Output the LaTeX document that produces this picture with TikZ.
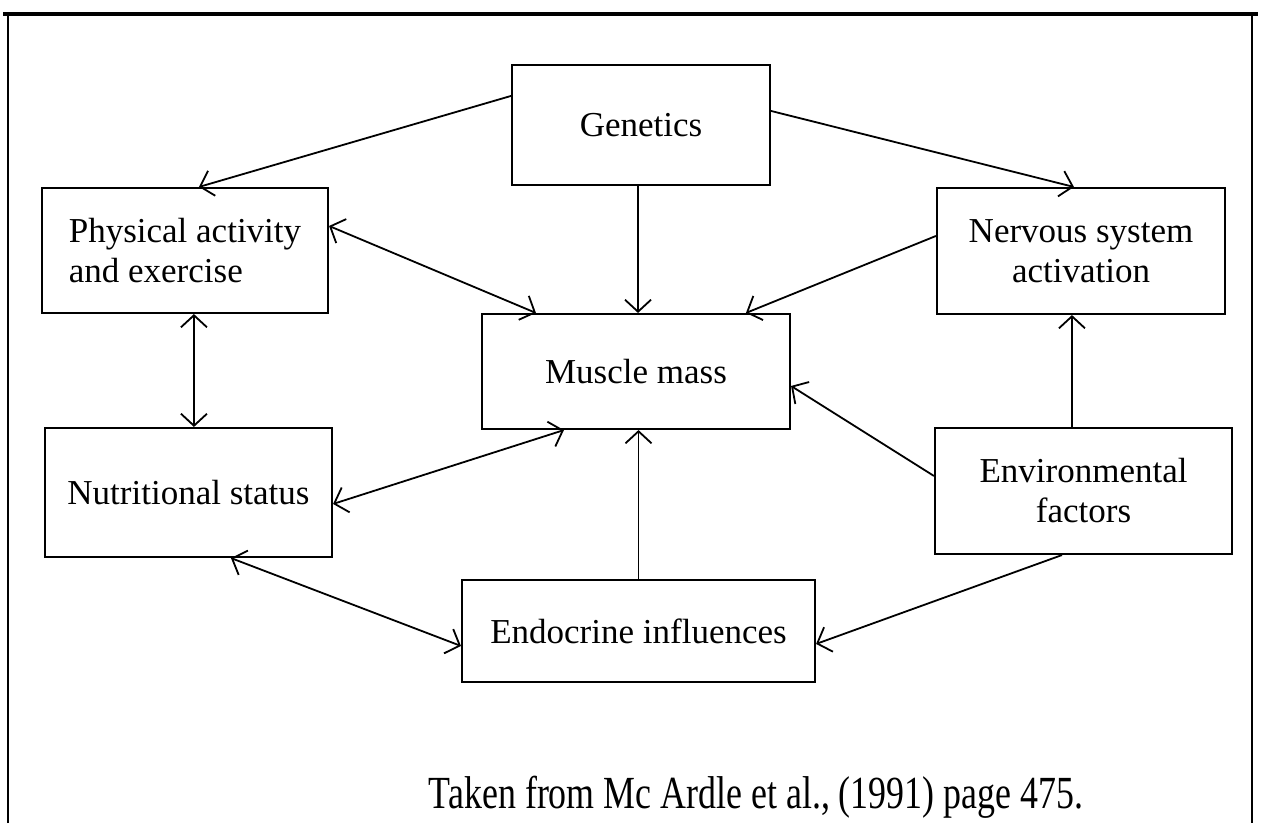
\documentclass[tikz,border=0pt]{standalone}
\usepackage{fontspec}
\setmainfont{Liberation Serif}
\newfontfamily\capfont[FakeStretch=0.78]{Liberation Serif}
\usetikzlibrary{arrows.meta,calc}
\begin{document}
\begin{tikzpicture}[x=1pt,y=-1pt,
  box/.style={draw,line width=2.1pt,rectangle,inner sep=0pt,font=\fontsize{35}{40}\selectfont,align=center},
  conn/.style={line width=1.8pt,-{Straight Barb[length=12pt,width=26pt,line width=1.8pt]}},
  dconn/.style={line width=1.8pt,{Straight Barb[length=12pt,width=26pt,line width=1.8pt]}-{Straight Barb[length=12pt,width=26pt,line width=1.8pt]}}]
\useasboundingbox (0,0) rectangle (1261,823);
% frame
\coordinate (fa) at (8,823);
\coordinate (fb) at (8,14);
\coordinate (fc) at (1252,14);
\coordinate (fd) at (1252,823);
\draw[line width=2.2pt] (fa) -- (fb);
\draw[line width=2.2pt] (fc) -- (fd);
\draw[line width=3.8pt] (3,14) -- (1258,14);
% boxes
\node[box,minimum width=258pt,minimum height=120pt] (gen) at (641,125) {Genetics};
\node[box,minimum width=286pt,minimum height=125pt,align=left] (phys) at (185,250.5) {Physical activity\\and exercise};
\node[box,minimum width=288pt,minimum height=126pt] (nerv) at (1081,251) {Nervous system\\activation};
\node[box,minimum width=308pt,minimum height=115pt] (mus) at (636,371.5) {\raisebox{-8pt}{Muscle mass}};
\node[box,minimum width=287pt,minimum height=129pt] (nut) at (188.5,492.5) {Nutritional status};
\node[box,minimum width=297pt,minimum height=126pt] (env) at (1083.5,491) {\raisebox{-6pt}{\parbox{8cm}{\centering Environmental\\factors}}};
\node[box,minimum width=353pt,minimum height=102pt] (endo) at (638.5,631) {Endocrine influences};
% caption
\node[font=\capfont\fontsize{46}{50}\selectfont,inner sep=0pt] (cap) at (756,797) {Taken from Mc Ardle et al., (1991) page 475.};
% helper coordinates on box edges
\coordinate (g1) at ($(gen.south)+(-3,0)$);
\coordinate (p1) at ($(phys.south west)+(153,0)$);
\coordinate (n1) at ($(nerv.south west)+(136,0)$);
% connectors
\draw[conn] ($(gen.north west)+(0,32)$) -- ($(phys.north west)+(158,0)$);
\draw[conn] ($(gen.north east)+(0,47)$) -- ($(nerv.north west)+(138,0)$);
\draw[conn] (g1) -- (g1 |- mus.north);
\draw[dconn] ($(phys.north east)+(0,39)$) -- ($(mus.north west)+(55,0)$);
\draw[conn] ($(nerv.north west)+(0,49)$) -- ($(mus.north west)+(265,0)$);
\draw[dconn] (p1) -- (p1 |- nut.north);
\draw[dconn] ($(nut.north east)+(0,77)$) -- ($(mus.south west)+(83,0)$);
\draw[conn] ($(env.north west)+(0,49)$) -- ($(mus.north east)+(0,73)$);
\draw[conn] (n1 |- env.north) -- (n1);
\draw[conn] (endo.north) -- (endo.north |- mus.south);
\draw[dconn] ($(nut.south west)+(187,0)$) -- ($(endo.north west)+(0,67)$);
\draw[conn] ($(env.south west)+(128,0)$) -- ($(endo.north east)+(0,65)$);
\end{tikzpicture}
\end{document}
